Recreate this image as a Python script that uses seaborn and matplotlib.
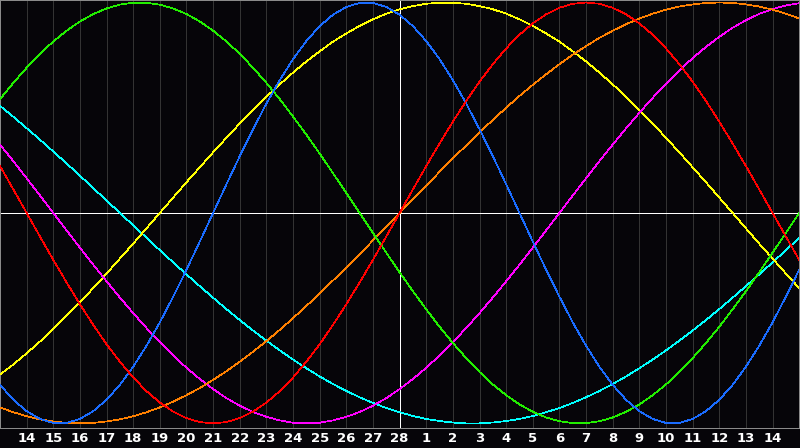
import numpy as np
import pandas as pd
import matplotlib
matplotlib.use("Agg")
import matplotlib.pyplot as plt
import seaborn as sns

# day positions (column index) and tick labels
days = list(range(31))                       # whole-day readings
half_days = [k + 0.5 for k in range(30)]     # mid-day readings
tick_pos = list(range(1, 30))
tick_labels = [str(d) for d in range(14, 29)] + [str(d) for d in range(1, 15)]
today_pos = 15

# readings at whole days
red = [0.223, 0.0, -0.223, -0.434, -0.624, -0.782, -0.901, -0.975, -1.0, -0.975,
       -0.901, -0.782, -0.624, -0.434, -0.223, 0.0, 0.223, 0.434, 0.624, 0.782,
       0.901, 0.975, 1.0, 0.975, 0.901, 0.782, 0.624, 0.434, 0.223, 0.0, -0.223]
orange = [-0.924, -0.966, -0.991, -1.0, -0.991, -0.966, -0.924, -0.866, -0.793, -0.707,
          -0.609, -0.5, -0.383, -0.259, -0.131, 0.0, 0.131, 0.259, 0.383, 0.5,
          0.609, 0.707, 0.793, 0.866, 0.924, 0.966, 0.991, 1.0, 0.991, 0.966, 0.924]
blue = [-0.817, -0.942, -0.998, -0.979, -0.888, -0.731, -0.520, -0.270, 0.0, 0.270,
        0.520, 0.731, 0.888, 0.979, 0.998, 0.942, 0.817, 0.631, 0.398, 0.136,
        -0.136, -0.398, -0.631, -0.817, -0.942, -0.998, -0.979, -0.888, -0.731, -0.520, -0.270]
green = [0.541, 0.690, 0.815, 0.910, 0.972, 0.999, 0.990, 0.945, 0.866, 0.756,
         0.618, 0.458, 0.282, 0.095, -0.095, -0.282, -0.458, -0.618, -0.756, -0.866,
         -0.945, -0.990, -0.999, -0.972, -0.910, -0.815, -0.690, -0.541, -0.372, -0.189, 0.0]
magenta = [0.325, 0.165, 0.0, -0.165, -0.325, -0.476, -0.614, -0.736, -0.837, -0.916,
           -0.969, -0.997, -0.997, -0.969, -0.916, -0.837, -0.736, -0.614, -0.476, -0.325,
           -0.165, 0.0, 0.165, 0.325, 0.476, 0.614, 0.736, 0.837, 0.916, 0.969, 0.997]
yellow = [-0.768, -0.667, -0.552, -0.425, -0.288, -0.146, 0.0, 0.146, 0.288, 0.425,
          0.552, 0.667, 0.768, 0.853, 0.920, 0.968, 0.994, 0.999, 0.983, 0.947,
          0.889, 0.814, 0.720, 0.611, 0.489, 0.357, 0.217, 0.073, -0.073, -0.217, -0.357]
cyan = [0.509, 0.403, 0.292, 0.177, 0.059, -0.059, -0.177, -0.292, -0.403, -0.509,
        -0.607, -0.697, -0.777, -0.846, -0.903, -0.947, -0.979, -0.996, -1.0, -0.989,
        -0.965, -0.927, -0.876, -0.813, -0.738, -0.653, -0.559, -0.457, -0.348, -0.235, -0.118]

# readings at mid-days
red_h = [0.112, -0.112, -0.330, -0.532, -0.707, -0.847, -0.944, -0.994, -0.994, -0.944,
         -0.847, -0.707, -0.532, -0.330, -0.112, 0.112, 0.330, 0.532, 0.707, 0.847,
         0.944, 0.994, 0.994, 0.944, 0.847, 0.707, 0.532, 0.330, 0.112, -0.112]
orange_h = [-0.947, -0.981, -0.998, -0.998, -0.981, -0.947, -0.897, -0.832, -0.752, -0.659,
            -0.556, -0.442, -0.321, -0.195, -0.065, 0.065, 0.195, 0.321, 0.442, 0.556,
            0.659, 0.752, 0.832, 0.897, 0.947, 0.981, 0.998, 0.998, 0.981, 0.947]
blue_h = [-0.888, -0.979, -0.998, -0.942, -0.817, -0.631, -0.398, -0.136, 0.136, 0.398,
          0.631, 0.817, 0.942, 0.998, 0.979, 0.888, 0.731, 0.520, 0.270, 0.0,
          -0.270, -0.520, -0.731, -0.888, -0.979, -0.998, -0.942, -0.817, -0.631, -0.398]
green_h = [0.618, 0.756, 0.866, 0.945, 0.990, 0.999, 0.972, 0.910, 0.815, 0.690,
           0.541, 0.372, 0.189, 0.0, -0.189, -0.372, -0.541, -0.690, -0.815, -0.910,
           -0.972, -0.999, -0.990, -0.945, -0.866, -0.756, -0.618, -0.458, -0.282, -0.095]
magenta_h = [0.246, 0.083, -0.083, -0.246, -0.402, -0.547, -0.677, -0.789, -0.880, -0.946,
             -0.986, -1.0, -0.986, -0.946, -0.880, -0.789, -0.677, -0.547, -0.402, -0.246,
             -0.083, 0.083, 0.246, 0.402, 0.547, 0.677, 0.789, 0.880, 0.946, 0.986]
yellow_h = [-0.720, -0.611, -0.489, -0.357, -0.217, -0.073, 0.073, 0.217, 0.357, 0.489,
            0.611, 0.720, 0.814, 0.889, 0.947, 0.983, 0.999, 0.994, 0.968, 0.920,
            0.853, 0.768, 0.667, 0.552, 0.425, 0.288, 0.146, 0.0, -0.146, -0.288]
cyan_h = [0.457, 0.348, 0.235, 0.118, 0.0, -0.118, -0.235, -0.348, -0.457, -0.559,
          -0.653, -0.738, -0.813, -0.876, -0.927, -0.965, -0.989, -1.0, -0.996, -0.979,
          -0.947, -0.903, -0.846, -0.777, -0.697, -0.607, -0.509, -0.403, -0.292, -0.177]

series = {"cyan": (cyan, cyan_h), "yellow": (yellow, yellow_h),
          "magenta": (magenta, magenta_h), "orange": (orange, orange_h),
          "green": (green, green_h), "blue": (blue, blue_h), "red": (red, red_h)}
palette = {"red": "#ff0000", "orange": "#ff8000", "blue": "#1a6cff", "green": "#22ee00",
           "magenta": "#ff00ff", "yellow": "#ffff00", "cyan": "#00ffff"}

frames = []
for name, (whole, half) in series.items():
    frames.append(pd.DataFrame({"day": days, "value": whole, "cycle": name}))
    frames.append(pd.DataFrame({"day": half_days, "value": half, "cycle": name}))
df = pd.concat(frames, ignore_index=True)

sns.set_style("dark")
plt.rcParams["font.family"] = ["DejaVu Sans"]
bg = "#060509"
fig = plt.figure(figsize=(8.0, 4.48), dpi=100, facecolor=bg)
ax = fig.add_axes([0.0, 20 / 448, 0.999, 428 / 448])
ax.set_facecolor(bg)

# grid and reference lines
for p in tick_pos:
    ax.axvline(p, color="#333333", lw=0.5, zorder=0.5, antialiased=False)
ax.axhline(0, color="white", lw=0.5, zorder=1, antialiased=False)
ax.axvline(today_pos, color="white", lw=0.5, zorder=1, antialiased=False)

sns.lineplot(data=df, x="day", y="value", hue="cycle", palette=palette,
             hue_order=list(series.keys()), estimator=None, sort=True,
             legend=False, linewidth=0.5, ax=ax, zorder=3)
for ln in ax.get_lines():
    ln.set_antialiased(False)

ax.set_xlim(0, 30)
ax.set_ylim(-1.022, 1.012)
ax.set_xticks(tick_pos)
ax.set_xticklabels(tick_labels, color="white", fontsize=9.5, fontweight="bold")
ax.set_yticks([])
ax.tick_params(axis="x", length=0, pad=3)
ax.set_xlabel("")
ax.set_ylabel("")
ax.grid(False)
for s in ax.spines.values():
    s.set_visible(True)
    s.set_color("#8a8a8a")
    s.set_linewidth(0.72)

fig.savefig("out.png", dpi=100, facecolor=bg)
